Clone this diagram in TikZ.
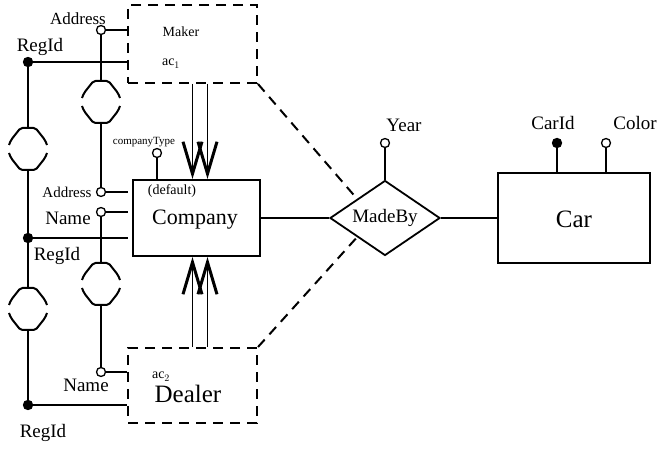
\documentclass[tikz,border=0pt]{standalone}
\usepackage{fontspec}
\setmainfont{Liberation Serif}
\usetikzlibrary{positioning,arrows.meta,shapes.geometric}
\newcommand{\fsz}[1]{\fontsize{#1}{#1}\selectfont}

\begin{document}
\begin{tikzpicture}[
  x=1pt,y=-1pt,
  entity/.style={draw,line width=2pt,minimum width=127pt,minimum height=76pt,inner sep=0pt},
  aggr/.style={draw,dash pattern=on 10pt off 7pt,line width=2pt,minimum width=129pt,inner sep=0pt},
  rel/.style={draw,diamond,aspect=1.47,inner sep=0pt,minimum width=110pt,minimum height=75pt,line width=1.8pt,font=\fsz{19}},
  attr/.style={circle,draw,fill=white,inner sep=0pt,minimum size=9pt,line width=1.3pt},
  keyattr/.style={attr,fill=black},
  lbl/.style={inner sep=0pt,anchor=base,font=\fsz{19}},
  link/.style={draw,line width=1.8pt},
  isa/.style={link,-{Straight Barb[length=32pt,width=19pt,line width=3pt]}},
  part/.style={draw,dash pattern=on 10pt off 7pt,line width=2pt},
  card/.pic={
    \draw[line width=2pt,rounded corners=2pt] (-19,17) -- (-17,12) -- (-7.5,0) -- (7.5,0) -- (17,12) -- (19,17);
    \draw[line width=2pt,rounded corners=2pt] (-19,25) -- (-17,30) -- (-7.5,42) -- (7.5,42) -- (17,30) -- (19,25);
    \coordinate (-top) at (0,0);
    \coordinate (-bot) at (0,42);
  }
]
\useasboundingbox (0,0) rectangle (657,449);

% boxes
\node[aggr,minimum height=78pt] (maker) at (192.5,44) {};
\node[aggr,minimum height=75pt] (dealer) at (192.5,385.5) {};
\node[entity] (company) at (196.5,218) {};
\node[entity,minimum width=152pt,minimum height=90pt] (car) at (574,218) {};
\node[rel] (madeby) at (385,218) {MadeBy};

% texts in the boxes
\node[lbl,font=\fsz{14}] (makertxt) at (181,37) {Maker};
\node[lbl,font=\fsz{14}] (actxt1) at (171,66) {ac$_1$};
\node[lbl,font=\fsz{14}] (actxt2) at (161,379) {ac$_2$};
\node[lbl,font=\fsz{25}] (dealertxt) at (188,403) {Dealer};
\node[lbl,font=\fsz{14}] (deftxt) at (172,195) {(default)};
\node[lbl,font=\fsz{22}] (companytxt) at (195,225) {Company};
\node[lbl,font=\fsz{25}] (cartxt) at (574,228) {Car};

% attributes
\node[attr] (addr1) at (101,30) {};
\node[keyattr] (regid1) at (28,62) {};
\node[attr] (ctype) at (157,153) {};
\node[attr] (addr2) at (101,192) {};
\node[attr] (name2) at (101,212) {};
\node[keyattr] (regid2) at (28,238) {};
\node[attr] (name3) at (101,372) {};
\node[keyattr] (regid3) at (28,405) {};
\node[attr] (year) at (385,143) {};
\node[keyattr] (carid) at (557,143) {};
\node[attr] (color) at (606,143) {};

\node[lbl,font=\fsz{17}] (addr1txt) at (78,25) {Address};
\node[lbl] (regid1txt) at (40,52) {RegId};
\node[lbl,font=\fsz{11}] (ctypetxt) at (144,145) {companyType};
\node[lbl,font=\fsz{15}] (addr2txt) at (67,198) {Address};
\node[lbl] (name2txt) at (68,225) {Name};
\node[lbl] (regid2txt) at (57,261) {RegId};
\node[lbl] (name3txt) at (86,392) {Name};
\node[lbl] (regid3txt) at (43,438) {RegId};
\node[lbl] (yeartxt) at (404,132) {Year};
\node[lbl] (caridtxt) at (553,130) {CarId};
\node[lbl] (colortxt) at (635,130) {Color};

% cardinality marks
\pic (h1) at (28,128) {card};
\pic (h2) at (101,81) {card};
\pic (h3) at (28,288) {card};
\pic (h4) at (101,263) {card};

% connectors
\draw[link] (regid1) -- (h1-top);
\draw[link] (h1-bot) -- (regid2);
\draw[link] (regid2) -- (h3-top);
\draw[link] (h3-bot) -- (regid3);
\draw[link] (addr1) -- (h2-top);
\draw[link] (h2-bot) -- (addr2);
\draw[link] (name2) -- (h4-top);
\draw[link] (h4-bot) -- (name3);

\draw[link] (addr1) -- (addr1 -| maker.west);
\draw[link] (regid1) -- (regid1 -| maker.west);
\draw[link,shorten >=4pt] (addr2) -- (addr2 -| company.west);
\draw[link,shorten >=4pt] (name2) -- (name2 -| company.west);
\draw[link,shorten >=4pt] (regid2) -- (regid2 -| company.west);
\draw[link] (name3) -- (name3 -| dealer.west);
\draw[link] (regid3) -- (regid3 -| dealer.west);
\draw[link] (ctype) -- (ctype |- company.north);

\draw[isa] (maker.south) -- (maker.south |- company.north);
\draw[isa] ([xshift=15pt]maker.south) -- ([xshift=15pt]maker.south |- company.north);
\draw[isa] (dealer.north) -- (dealer.north |- company.south);
\draw[isa] ([xshift=15pt]dealer.north) -- ([xshift=15pt]dealer.north |- company.south);

\draw[link] (company.east) -- (madeby.west);
\draw[link] (madeby.east) -- (car.west);
\draw[link] (year) -- (madeby.north);
\draw[link] (carid) -- (carid |- car.north);
\draw[link] (color) -- (color |- car.north);

\draw[part] (maker.south east) -- (madeby.north west);
\draw[part] (dealer.north east) -- (madeby.south west);
\end{tikzpicture}
\end{document}
